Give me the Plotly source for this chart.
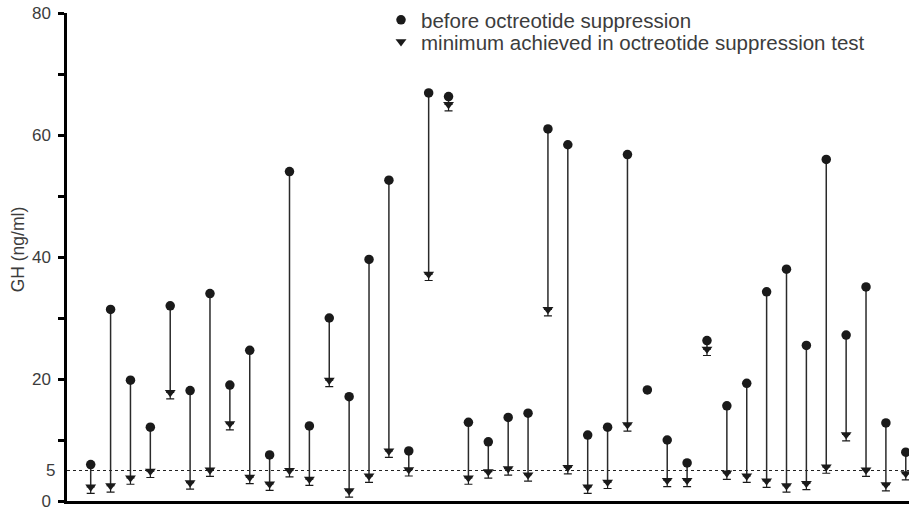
import plotly.graph_objects as go

# ---- data ----
patients = list(range(1, 43))
before = [5.97, 31.4, 19.8, 12.1, 32.0, 18.1, 34.0, 19.0, 24.7, 7.55,
          54.0, 12.3, 30.0, 17.1, 39.6, 52.6, 8.2, 66.9, 66.3, 12.9,
          9.7, 13.7, 14.4, 61.0, 58.4, 10.8, 12.1, 56.8, 18.2, 10.0,
          6.25, 26.3, 15.6, 19.3, 34.3, 38.0, 25.5, 56.0, 27.2, 35.1,
          12.8, 8.0]
minimum = [2.3, 2.5, 3.8, 4.9, 17.8, 3.0, 5.1, 12.7, 3.9, 2.8,
           5.0, 3.6, 19.8, 1.7, 4.1, 8.2, 5.15, 37.2, 65.0, 3.8,
           4.8, 5.3, 4.3, 31.4, 5.5, 2.3, 3.1, 12.5, None, 3.4,
           3.4, 24.9, 4.6, 4.1, 3.3, 2.5, 2.9, 5.6, 10.9, 5.1,
           2.7, 4.5]
threshold = 5
y_tickvals = [0, 10, 20, 30, 40, 50, 60, 70, 80]
y_ticktext = ["0", "", "20", "", "40", "", "60", "", "80"]

TEXT = "#3c3c3c"
FONT = "Liberation Sans"
L = 67          # left margin (px)
PW = 909 - L    # plot width (px)

# connecting segments
seg_x, seg_y = [], []
for p, b, m in zip(patients, before, minimum):
    if m is None:
        continue
    seg_x += [p, p, None]
    seg_y += [b, m, None]

fig = go.Figure()
fig.add_trace(go.Scatter(x=seg_x, y=seg_y, mode="lines",
                         line=dict(color="#2a2a2a", width=1.5),
                         showlegend=False, hoverinfo="skip"))

mx = [p for p, m in zip(patients, minimum) if m is not None]
my = [m for m in minimum if m is not None]

fig.add_trace(go.Scatter(x=patients, y=before, mode="markers",
                         name="before octreotide suppression", legend="legend",
                         marker=dict(symbol="circle", size=9.5, color="#1a1a1a")))
fig.add_trace(go.Scatter(x=mx, y=my, mode="markers",
                         name="minimum achieved in octreotide suppression test",
                         legend="legend2",
                         marker=dict(symbol="triangle-down", size=9.5, color="#1a1a1a"),
                         error_y=dict(type="data", symmetric=False,
                                      array=[0] * len(my), arrayminus=[1.05] * len(my),
                                      color="#1a1a1a", thickness=1.2, width=4)))

fig.add_shape(type="line", xref="paper", yref="y", x0=0, x1=1, y0=threshold, y1=threshold,
              line=dict(color="#222222", width=1, dash="3px,3px"), layer="below")

fig.add_annotation(text="5", xref="paper", yref="y", x=0, y=threshold,
                   xanchor="right", yanchor="middle", xshift=-10, showarrow=False,
                   font=dict(family=FONT, size=17, color=TEXT))
fig.add_annotation(text="GH (ng/ml)", xref="paper", yref="paper",
                   x=(18.3 - L) / PW, y=(503 - 250) / 490, textangle=-90,
                   xanchor="center", yanchor="middle", showarrow=False,
                   font=dict(family=FONT, size=17.5, color=TEXT))

leg_common = dict(xanchor="left", yanchor="middle",
                  font=dict(family=FONT, size=20.5, color=TEXT),
                  bgcolor="rgba(0,0,0,0)", itemwidth=30)

fig.update_layout(
    width=909, height=511,
    margin=dict(l=L, r=0, t=13, b=8),
    paper_bgcolor="white", plot_bgcolor="white",
    font=dict(family=FONT, color=TEXT),
    legend=dict(x=(381 - L) / PW, y=(503 - 20) / 490, **leg_common),
    legend2=dict(x=(381 - L) / PW, y=(503 - 42) / 490, **leg_common),
    xaxis=dict(range=[1 - (90.7 - L) / 19.88, 1 + (909 - 90.7) / 19.88],
               showline=True, linecolor="black", linewidth=3,
               showticklabels=False, ticks="", showgrid=False, zeroline=False),
    yaxis=dict(range=[0, 80], tickvals=y_tickvals, ticktext=y_ticktext,
               showline=True, linecolor="black", linewidth=2.5,
               ticks="outside", ticklen=6, tickwidth=2.5, tickcolor="black",
               ticklabelstandoff=4, ticklabeloverflow="allow",
               tickfont=dict(family=FONT, size=17, color=TEXT),
               showgrid=False, zeroline=False),
)

fig.write_html("out.html", config={"displayModeBar": False},
               post_script="document.body.style.margin='0';"
                           "document.documentElement.style.overflow='hidden';")
